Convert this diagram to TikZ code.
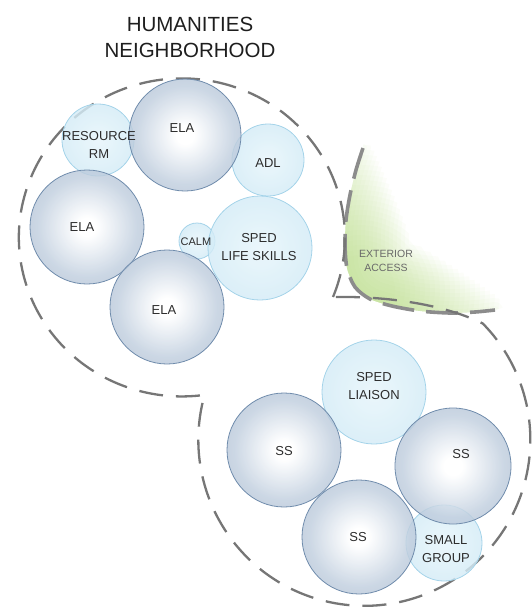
\documentclass[tikz,border=0pt]{standalone}
\usepackage{fontspec}
\setmainfont{Liberation Sans}
\definecolor{dkedge}{RGB}{150,172,198}
\definecolor{dkmid}{RGB}{192,206,222}
\definecolor{dkborder}{RGB}{112,140,172}
\definecolor{ltin}{RGB}{230,244,250}
\definecolor{ltmid}{RGB}{208,234,246}
\definecolor{ltedge}{RGB}{186,223,240}
\definecolor{ltborder}{RGB}{164,211,233}
\definecolor{txt}{RGB}{45,45,45}
\definecolor{dashgray}{RGB}{118,118,118}
\definecolor{extgray}{RGB}{140,140,140}
\definecolor{extgreen}{RGB}{170,212,110}
\pgfdeclareradialshading{darkroom}{\pgfpoint{0bp}{0bp}}{color(0bp)=(white); color(4bp)=(white); color(22bp)=(dkmid); color(50bp)=(dkedge); color(72bp)=(dkedge)}
\pgfdeclareradialshading{lightroom}{\pgfpoint{0bp}{0bp}}{color(0bp)=(ltin); color(30bp)=(ltmid); color(50bp)=(ltedge); color(72bp)=(ltedge)}
\tikzset{
  room/.style={circle, inner sep=0pt, minimum size=#1, fill opacity=0.82, line width=0.8pt},
  darkrm/.style={room=#1, shading=darkroom, draw=dkborder},
  lightrm/.style={room=#1, shading=lightroom, draw=ltborder},
  lbl/.style={align=center, text=txt, font=\fontsize{13}{18.5}\selectfont, inner sep=0pt},
  smalllbl/.style={align=center, text=txt, font=\fontsize{11}{13}\selectfont, inner sep=0pt},
  extlbl/.style={align=center, text={rgb,255:red,105;green,105;blue,105}, font=\fontsize{10.5}{14}\selectfont, inner sep=0pt},
  titlelbl/.style={align=center, text={rgb,255:red,30;green,30;blue,30}, font=\fontsize{20.5}{26}\selectfont, inner sep=0pt},
  zone/.style={draw=dashgray, line width=2.3pt, dash pattern=on 24pt off 13pt},
  extline/.style={draw=extgray, line width=3.6pt, dash pattern=on 32pt off 12pt},
  glow/.style={draw=extgreen, line width=#1, line cap=round, line join=round, draw opacity=0.04}
}
\begin{document}
\begin{tikzpicture}[x=1pt,y=-1pt]
\useasboundingbox (0,0) rectangle (531,614);
% exterior access edge points
\coordinate (q0) at (363,148);
\coordinate (q1) at (356,170);
\coordinate (q2) at (350,195);
\coordinate (q3) at (346,220);
\coordinate (q4) at (345,245);
\coordinate (q5) at (347,268);
\coordinate (q6) at (355,287);
\coordinate (q7) at (370,299);
\coordinate (q8) at (392,306);
\coordinate (q9) at (420,311);
\coordinate (q10) at (450,313);
\coordinate (q11) at (475,312);
\coordinate (q12) at (495,310);
\coordinate (corner) at (360,290);
\begin{scope}
  \clip plot[smooth] coordinates {(q0) (q1) (q2) (q3) (q4) (q5) (q6) (q7) (q8) (q9) (q10) (q11) (q12)} -- (531,300) -- (531,140) -- (363,140) -- cycle;
  \foreach \k in {1,...,24} {
    \pgfmathsetmacro\w{8*\k}
    \pgfmathsetmacro\rr{155-5*\k}
    \begin{scope}
      \clip (corner) circle (\rr);
      \draw[glow=\w pt] plot[smooth] coordinates {(q0) (q1) (q2) (q3) (q4) (q5) (q6) (q7) (q8) (q9) (q10) (q11) (q12)};
    \end{scope}
  }
\end{scope}
\draw[extline] plot[smooth] coordinates {(q0) (q1) (q2) (q3) (q4) (q5) (q6) (q7) (q8) (q9) (q10) (q11) (q12)};
% neighborhood boundary
\coordinate (c1) at (333,297);
\draw[zone] (c1) arc[start angle=22, end angle=-278, x radius=163, y radius=159]
  arc[start angle=195.7, end angle=-44.5, radius=166]
  .. controls (445,305) and (390,296) .. (c1);
% light rooms
\node[lightrm=72] (res) at (98,140) {};
\node[lightrm=72] (adl) at (268,160) {};
\node[lightrm=36] (calm) at (197,241) {};
\node[lightrm=104] (life) at (260,248) {};
\node[lightrm=104] (liaison) at (374,392) {};
\node[lightrm=76] (small) at (444,543) {};
% dark rooms
\node[darkrm=112] (ela1) at (185,135) {};
\node[darkrm=114] (ela2) at (87,227) {};
\node[darkrm=114] (ela3) at (167,307) {};
\node[darkrm=114] (ss1) at (284,450) {};
\node[darkrm=116] (ss2) at (453,466) {};
\node[darkrm=114] (ss3) at (359,537) {};
% labels
\node[titlelbl] (title) at (190,37) {HUMANITIES\\NEIGHBORHOOD};
\node[lbl] (tres) at (99,145) {RESOURCE\\RM};
\node[lbl] (tela1) at (182,128) {ELA};
\node[lbl] (tadl) at (268,163) {ADL};
\node[lbl] (tela2) at (82,227) {ELA};
\node[smalllbl] (tcalm) at (196,242) {CALM};
\node[lbl] (tlife) at (259,247) {SPED\\LIFE SKILLS};
\node[lbl] (tela3) at (164,310) {ELA};
\node[extlbl] (text) at (386,261) {EXTERIOR\\ACCESS};
\node[lbl] (tliaison) at (374,386) {SPED\\LIAISON};
\node[lbl] (tss1) at (284,451) {SS};
\node[lbl] (tss2) at (461,454) {SS};
\node[lbl] (tss3) at (358,537) {SS};
\node[lbl] (tsmall) at (446,549) {SMALL\\GROUP};
\end{tikzpicture}
\end{document}
